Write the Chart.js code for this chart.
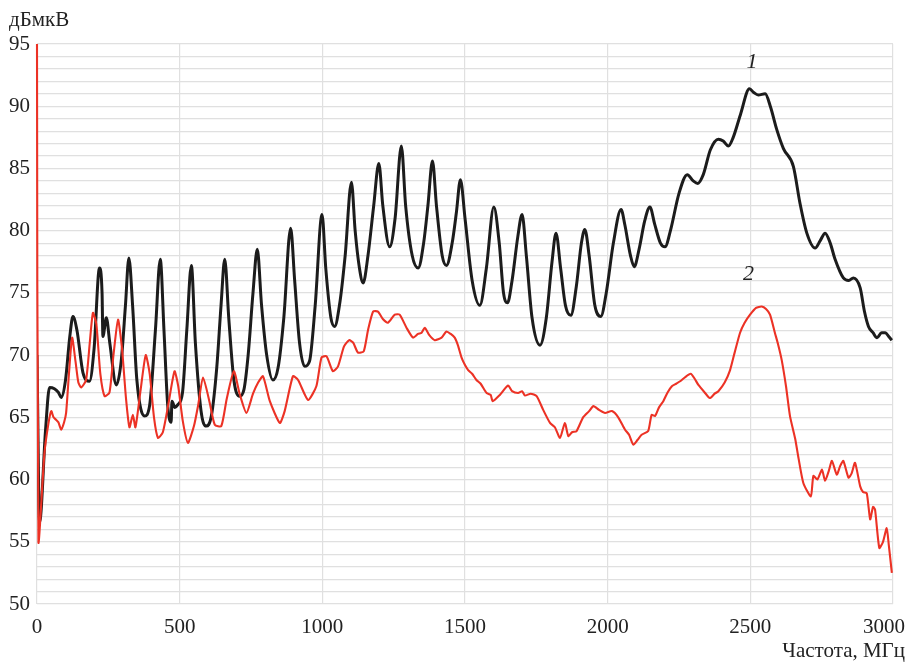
<!DOCTYPE html>
<html>
<head>
<meta charset="utf-8">
<script src="https://cdn.jsdelivr.net/npm/chart.js@4.4.1/dist/chart.umd.min.js"></script>
<style>
  html, body { margin: 0; padding: 0; background: #ffffff; }
  #wrap { position: relative; width: 908px; height: 665px; }
</style>
</head>
<body>
<div id="wrap"><canvas id="c" width="908" height="665"></canvas></div>
<script>
// ---- data ----
const yTitle = "дБмкВ";
const xTitle = "Частота, МГц";
const xTickValues = [0, 500, 1000, 1500, 2000, 2500, 3000];
const yTickValues = [50, 55, 60, 65, 70, 75, 80, 85, 90, 95];
const curveNames = ["1", "2"];
const curveLabelFreq = [2506, 2494];
const curveLabelLevel = [93.55, 76.5];

const blackFreq = [0, 9, 30, 44, 61, 75, 85, 100, 115, 126, 140, 161, 184, 200, 219, 228, 231, 243, 255, 278, 295, 310, 322, 335, 350, 377, 395, 415, 432, 445, 458, 470, 473, 483, 493, 510, 525, 541, 555, 575, 593, 611, 630, 645, 658, 672, 690, 710, 725, 740, 757, 772, 787, 805, 827, 845, 865, 889, 903, 920, 938, 955, 975, 999, 1012, 1030, 1043, 1060, 1080, 1102, 1115, 1130, 1143, 1160, 1180, 1198, 1212, 1236, 1255, 1277, 1292, 1315, 1336, 1355, 1370, 1386, 1400, 1420, 1435, 1455, 1470, 1484, 1500, 1525, 1552, 1575, 1601, 1620, 1635, 1649, 1665, 1685, 1700, 1715, 1735, 1763, 1785, 1805, 1819, 1835, 1852, 1871, 1890, 1908, 1920, 1935, 1955, 1976, 1995, 2020, 2047, 2060, 2080, 2093, 2110, 2130, 2148, 2165, 2185, 2201, 2220, 2250, 2279, 2300, 2316, 2335, 2360, 2388, 2405, 2423, 2440, 2465, 2497, 2512, 2528, 2552, 2570, 2593, 2616, 2651, 2674, 2698, 2727, 2745, 2762, 2780, 2797, 2826, 2845, 2861, 2885, 2900, 2914, 2930, 2944, 2960, 2973, 2985, 2996];
const blackLevel = [70, 56.6, 64, 67.4, 67.3, 67.0, 66.6, 68, 71.5, 73.1, 72, 68.6, 67.9, 70.5, 77.0, 75, 71.5, 73.0, 71, 67.6, 69.5, 74, 77.8, 74, 68, 65.1, 66, 72, 77.7, 72, 66, 64.6, 66.3, 65.8, 66.0, 67, 72, 77.2, 71, 65.5, 64.3, 65.1, 69, 74, 77.7, 73, 68, 66.7, 67.2, 70, 75, 78.5, 74, 70, 68.0, 69, 73, 80.2, 76, 71, 69.1, 69.5, 74, 81.3, 77, 73, 72.3, 74, 78, 83.9, 80, 77, 75.8, 78, 82, 85.4, 82, 78.7, 81, 86.8, 82, 78, 77.0, 79, 82, 85.6, 82, 78, 77.2, 79, 81.5, 84.1, 81, 76, 74.0, 77, 81.9, 79, 75, 74.2, 76, 79.5, 81.3, 78, 73, 70.8, 73, 77.5, 79.8, 77, 74, 73.2, 75.5, 79, 80.1, 78, 74, 73.1, 75, 79, 81.7, 80.5, 78, 77.1, 78.5, 80.8, 81.9, 80.5, 79, 78.7, 80, 83, 84.5, 84, 83.8, 84.5, 86.5, 87.35, 87.2, 86.8, 87.5, 89.3, 91.4, 91.1, 90.9, 91.0, 90, 88.1, 86.6, 85.15, 82.2, 79.8, 78.6, 79.2, 79.8, 79, 77.7, 76.2, 76.0, 76.2, 75.4, 73.5, 72.3, 71.8, 71.4, 71.8, 71.8, 71.5, 71.2];

const redFreq = [0, 5, 26, 40, 50, 58, 67, 75, 85, 95, 102, 112, 123, 135, 145, 155, 172, 185, 196, 208, 222, 237, 254, 268, 284, 298, 312, 324, 336, 345, 362, 381, 395, 410, 424, 441, 460, 482, 495, 511, 529, 550, 565, 582, 605, 623, 646, 665, 690, 710, 734, 757, 775, 792, 816, 851, 868, 897, 915, 950, 979, 997, 1015, 1037, 1055, 1076, 1094, 1108, 1125, 1145, 1160, 1178, 1195, 1212, 1230, 1254, 1271, 1295, 1318, 1335, 1348, 1359, 1375, 1394, 1418, 1435, 1450, 1464, 1475, 1488, 1500, 1511, 1525, 1540, 1555, 1576, 1590, 1597, 1622, 1651, 1665, 1686, 1700, 1710, 1730, 1751, 1774, 1798, 1815, 1833, 1850, 1862, 1875, 1891, 1914, 1935, 1950, 1970, 1991, 2015, 2037, 2061, 2075, 2090, 2105, 2119, 2142, 2154, 2166, 2180, 2195, 2210, 2225, 2240, 2254, 2270, 2291, 2305, 2318, 2340, 2358, 2375, 2388, 2410, 2429, 2445, 2464, 2480, 2499, 2520, 2540, 2555, 2569, 2586, 2598, 2610, 2625, 2639, 2657, 2669, 2686, 2712, 2721, 2735, 2751, 2762, 2775, 2786, 2803, 2815, 2826, 2844, 2855, 2867, 2885, 2895, 2908, 2920, 2930, 2937, 2952, 2965, 2978, 2985, 2996];
const redLevel = [95, 55, 62.1, 64.5, 65.5, 65, 64.8, 64.6, 64.0, 64.6, 65.35, 68.5, 71.4, 69.5, 67.8, 67.4, 68.0, 71, 73.4, 72.5, 68.5, 66.7, 67.0, 70, 72.85, 70.5, 66.5, 64.2, 65.2, 64.2, 67, 70.0, 68.5, 65, 63.35, 63.8, 66, 68.7, 67.5, 64.7, 62.95, 64.3, 66, 68.2, 66.2, 64.4, 64.3, 66.5, 68.7, 66.9, 65.35, 66.9, 67.8, 68.3, 66.3, 64.55, 65.5, 68.3, 68.0, 66.4, 67.5, 69.8, 69.9, 68.7, 69.1, 70.7, 71.2, 71.0, 70.2, 70.3, 72, 73.5, 73.5, 72.9, 72.6, 73.25, 73.25, 72.2, 71.4, 71.7, 71.8, 72.2, 71.6, 71.2, 71.4, 71.9, 71.7, 71.4, 70.8, 69.8, 69.2, 68.8, 68.5, 68.0, 67.7, 66.95, 66.8, 66.3, 66.8, 67.55, 67.1, 66.95, 67.1, 66.75, 66.9, 66.7, 65.6, 64.55, 64.2, 63.35, 64.55, 63.5, 63.8, 63.9, 65.0, 65.5, 65.9, 65.6, 65.35, 65.5, 65.0, 64.0, 63.6, 62.8, 63.2, 63.6, 63.9, 65.2, 65.1, 65.8, 66.3, 67, 67.5, 67.7, 67.9, 68.2, 68.5, 68.1, 67.6, 67.0, 66.55, 66.9, 67.1, 67.8, 68.8, 70.2, 71.8, 72.6, 73.25, 73.8, 73.9, 73.7, 73.25, 71.8, 70.8, 69.6, 67.5, 65.1, 63.3, 61.7, 59.7, 58.65, 60.3, 60.0, 60.8, 59.9, 60.7, 61.5, 60.4, 61.1, 61.5, 60.15, 60.5, 61.35, 59.45, 59.0, 58.9, 56.8, 57.8, 57.6, 54.5, 55.0, 56.1, 54.8, 52.5];

const toPoints = (fs, vs) => fs.map((f, i) => ({ x: f, y: vs[i] }));

const SERIF = '"Liberation Serif", "DejaVu Serif", serif';
const TEXT = '#222222';
const GRID = '#e0e0e0';

const textPlugin = {
  id: 'texts',
  afterDraw(chart) {
    const ctx = chart.ctx;
    const xs = chart.scales.x, ys = chart.scales.y;
    ctx.save();
    ctx.fillStyle = TEXT;
    ctx.font = '21px ' + SERIF;
    ctx.textBaseline = 'alphabetic';
    xTickValues.forEach(v => {
      const label = String(v);
      const w = ctx.measureText(label).width;
      let left = xs.getPixelForValue(v) - w / 2;
      if (left + w > 905) left = 905 - w;
      ctx.textAlign = 'left';
      ctx.fillText(label, left, 633);
    });
    ctx.textAlign = 'left';
    ctx.fillText(yTitle, 9, 26);
    ctx.textAlign = 'right';
    ctx.fillText(xTitle, 905, 657);
    ctx.font = 'italic 22px ' + SERIF;
    ctx.textAlign = 'center';
    ctx.textBaseline = 'middle';
    curveNames.forEach((n, i) => {
      ctx.fillText(n, xs.getPixelForValue(curveLabelFreq[i]), ys.getPixelForValue(curveLabelLevel[i]));
    });
    ctx.restore();
  }
};

new Chart(document.getElementById('c'), {
  type: 'line',
  data: {
    datasets: [
      {
        label: 'Кривая 2',
        data: toPoints(redFreq, redLevel),
        borderColor: '#ec3225',
        borderWidth: 2.1,
        pointRadius: 0,
        tension: 0.2,
        fill: false,
        clip: 3
      },
      {
        label: 'Кривая 1',
        data: toPoints(blackFreq, blackLevel),
        borderColor: '#1c1c1c',
        borderWidth: 3,
        pointRadius: 0,
        cubicInterpolationMode: 'monotone',
        fill: false
      }
    ]
  },
  options: {
    responsive: false,
    animation: false,
    events: [],
    layout: { padding: { top: 44, right: 15, bottom: 0, left: 0 } },
    plugins: {
      legend: { display: false },
      tooltip: { enabled: false },
      title: { display: false }
    },
    scales: {
      x: {
        type: 'linear',
        min: 0,
        max: 3000,
        ticks: { stepSize: 500, display: false },
        grid: { color: GRID, lineWidth: 1.2, drawTicks: false },
        border: { display: false },
        afterFit(scale) { scale.height = 61; scale.paddingLeft = 0; scale.paddingRight = 0; }
      },
      y: {
        type: 'linear',
        min: 50,
        max: 95,
        ticks: {
          stepSize: 1,
          autoSkip: false,
          padding: 7,
          color: TEXT,
          font: { family: SERIF, size: 21 },
          callback: (v) => yTickValues.includes(v) ? String(v) : ''
        },
        grid: { color: GRID, lineWidth: 1.2, drawTicks: false },
        border: { display: false },
        afterFit(scale) { scale.width = 37; }
      }
    }
  },
  plugins: [textPlugin]
});
</script>
</body>
</html>
